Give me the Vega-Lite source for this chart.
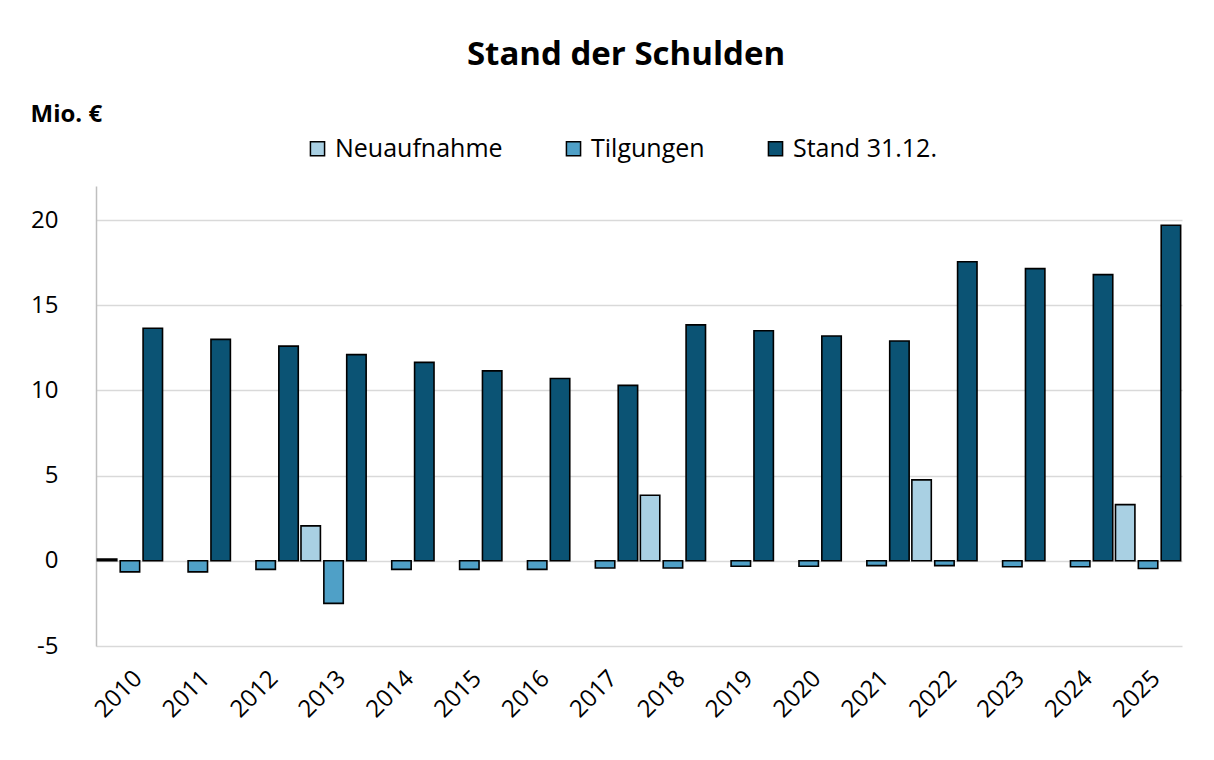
{
  "$schema": "https://vega.github.io/schema/vega-lite/v6.json",
  "width": 1086,
  "height": 460,
  "autosize": {"type": "none"},
  "padding": {"left": 96, "top": 186, "right": 32, "bottom": 114},
  "background": "white",
  "title": {
    "text": "Stand der Schulden",
    "fontSize": 33,
    "font": "Open Sans",
    "fontWeight": "bold",
    "color": "black",
    "anchor": "middle",
    "dx": -13,
    "offset": 30
  },
  "config": {
    "font": "Open Sans",
    "view": {"stroke": null}
  },
  "data": {
    "values": [
      {"year": "2010", "series": "Neuaufnahme", "value": 0.1},
      {"year": "2010", "series": "Tilgungen", "value": -0.65},
      {"year": "2010", "series": "Stand 31.12.", "value": 13.65},
      {"year": "2011", "series": "Tilgungen", "value": -0.65},
      {"year": "2011", "series": "Stand 31.12.", "value": 13.0},
      {"year": "2012", "series": "Tilgungen", "value": -0.5},
      {"year": "2012", "series": "Stand 31.12.", "value": 12.6},
      {"year": "2013", "series": "Neuaufnahme", "value": 2.05},
      {"year": "2013", "series": "Tilgungen", "value": -2.5},
      {"year": "2013", "series": "Stand 31.12.", "value": 12.1},
      {"year": "2014", "series": "Tilgungen", "value": -0.5},
      {"year": "2014", "series": "Stand 31.12.", "value": 11.65},
      {"year": "2015", "series": "Tilgungen", "value": -0.5},
      {"year": "2015", "series": "Stand 31.12.", "value": 11.15},
      {"year": "2016", "series": "Tilgungen", "value": -0.5},
      {"year": "2016", "series": "Stand 31.12.", "value": 10.7},
      {"year": "2017", "series": "Tilgungen", "value": -0.42},
      {"year": "2017", "series": "Stand 31.12.", "value": 10.3},
      {"year": "2018", "series": "Neuaufnahme", "value": 3.85},
      {"year": "2018", "series": "Tilgungen", "value": -0.42},
      {"year": "2018", "series": "Stand 31.12.", "value": 13.85},
      {"year": "2019", "series": "Tilgungen", "value": -0.32},
      {"year": "2019", "series": "Stand 31.12.", "value": 13.5},
      {"year": "2020", "series": "Tilgungen", "value": -0.32},
      {"year": "2020", "series": "Stand 31.12.", "value": 13.2},
      {"year": "2021", "series": "Tilgungen", "value": -0.28},
      {"year": "2021", "series": "Stand 31.12.", "value": 12.9},
      {"year": "2022", "series": "Neuaufnahme", "value": 4.75},
      {"year": "2022", "series": "Tilgungen", "value": -0.28},
      {"year": "2022", "series": "Stand 31.12.", "value": 17.55},
      {"year": "2023", "series": "Tilgungen", "value": -0.35},
      {"year": "2023", "series": "Stand 31.12.", "value": 17.15},
      {"year": "2024", "series": "Tilgungen", "value": -0.35},
      {"year": "2024", "series": "Stand 31.12.", "value": 16.8},
      {"year": "2025", "series": "Neuaufnahme", "value": 3.3},
      {"year": "2025", "series": "Tilgungen", "value": -0.45},
      {"year": "2025", "series": "Stand 31.12.", "value": 19.7}
    ]
  },
  "encoding": {
    "x": {
      "field": "year",
      "type": "nominal",
      "sort": null,
      "scale": {"paddingInner": 0.04, "paddingOuter": 0.02},
      "axis": {
        "title": null,
        "domain": false,
        "ticks": false,
        "labelAngle": -45,
        "labelFontSize": 24,
        "labelColor": "black",
        "labelPadding": 20,
        "labelFont": "Open Sans"
      }
    }
  },
  "layer": [
    {
      "mark": {"type": "bar", "stroke": "black", "strokeWidth": 1.6},
      "encoding": {
        "xOffset": {
          "field": "series",
          "type": "nominal",
          "sort": ["Neuaufnahme", "Tilgungen", "Stand 31.12."],
          "scale": {"paddingInner": 0.15, "paddingOuter": 0}
        },
        "y": {
          "field": "value",
          "type": "quantitative",
          "scale": {"domain": [-5, 22], "nice": false},
          "axis": {
            "title": "Mio. €",
            "titleAngle": 0,
            "titleAlign": "left",
            "titleBaseline": "middle",
            "titleX": -66,
            "titleY": -72,
            "titleFontSize": 24,
            "titleFontWeight": "bold",
            "titleColor": "black",
            "values": [-5, 0, 5, 10, 15, 20],
            "labelExpr": "replace(datum.label, '−', '-')",
            "labelFontSize": 24,
            "labelColor": "black",
            "labelPadding": 38,
            "ticks": false,
            "grid": true,
            "domainColor": "#bfbfbf",
            "domainWidth": 1.5,
            "gridColor": "#d9d9d9",
            "gridWidth": 1.5
          }
        },
        "color": {
          "field": "series",
          "type": "nominal",
          "sort": ["Neuaufnahme", "Tilgungen", "Stand 31.12."],
          "scale": {
            "domain": ["Neuaufnahme", "Tilgungen", "Stand 31.12."],
            "range": ["#a9d0e3", "#4fa0c7", "#0b5374"]
          },
          "legend": {
            "title": null,
            "orient": "none",
            "legendX": 209,
            "legendY": -50,
            "direction": "horizontal",
            "symbolType": "square",
            "symbolSize": 200,
            "symbolStrokeColor": "black",
            "symbolStrokeWidth": 1.5,
            "symbolOpacity": 1,
            "labelFontSize": 25,
            "labelColor": "black",
            "labelOffset": 5,
            "labelLimit": 400,
            "columnPadding": 58
          }
        }
      }
    },
    {
      "mark": {"type": "rule", "color": "#c6d9ef", "strokeWidth": 2},
      "encoding": {"y": {"datum": 0, "type": "quantitative"}}
    }
  ]
}
